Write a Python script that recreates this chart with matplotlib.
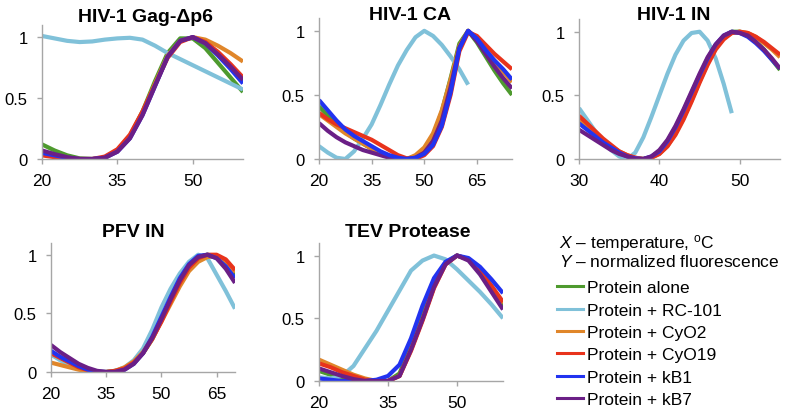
import matplotlib
matplotlib.use("Agg")
import matplotlib.pyplot as plt
from matplotlib.lines import Line2D

plt.rcParams['font.family'] = ['Liberation Sans', 'DejaVu Sans']
plt.rcParams['mathtext.fontset'] = 'custom'
plt.rcParams['mathtext.rm'] = 'Liberation Sans'
plt.rcParams['mathtext.it'] = 'Liberation Sans:italic'

W, H = 787, 414

# series labels and colours (legend order)
labels = ['Protein alone', 'Protein + RC-101', 'Protein + CyO2',
          'Protein + CyO19', 'Protein + kB1', 'Protein + kB7']
colors = ['#4e9a2e', '#80c1d9', '#e0862a', '#e8331c', '#2233f0', '#6b1f86']

# HIV-1 Gag-dp6
gag_x = [20, 22.5, 25, 27.5, 30, 32.5, 35, 37.5, 40, 42.5, 45, 47.5, 50, 52.5, 55, 57.5, 60]
gag_alone = [0.12, 0.07, 0.03, 0.005, 0.0, 0.01, 0.07, 0.19, 0.39, 0.64, 0.87, 0.99, 0.99, 0.91, 0.79, 0.67, 0.55]
gag_rc101 = [1.01, 0.99, 0.97, 0.96, 0.965, 0.98, 0.99, 0.995, 0.98, 0.93, 0.87, 0.82, 0.77, 0.72, 0.67, 0.62, 0.57]
gag_cyo2 = [0.06, 0.03, 0.01, 0.0, 0.0, 0.01, 0.07, 0.18, 0.38, 0.62, 0.85, 0.97, 1.0, 0.98, 0.93, 0.87, 0.80]
gag_cyo19 = [0.03, 0.015, 0.005, 0.0, 0.0, 0.02, 0.08, 0.20, 0.39, 0.61, 0.83, 0.96, 1.0, 0.96, 0.88, 0.78, 0.67]
gag_kb1 = [0.05, 0.03, 0.01, 0.0, 0.0, 0.01, 0.06, 0.17, 0.36, 0.60, 0.84, 0.97, 1.0, 0.95, 0.85, 0.74, 0.62]
gag_kb7 = [0.07, 0.04, 0.015, 0.0, 0.0, 0.01, 0.06, 0.17, 0.36, 0.60, 0.84, 0.97, 1.0, 0.95, 0.86, 0.76, 0.65]

# HIV-1 CA
ca_x = [20, 22.5, 25, 27.5, 30, 32.5, 35, 37.5, 40, 42.5, 45, 47.5, 50, 52.5, 55, 57.5, 60,
        62.5, 65, 67.5, 70, 72.5, 75]
ca_x_rc101 = [20, 22.5, 25, 27.5, 30, 32.5, 35, 37.5, 40, 42.5, 45, 47.5, 50, 52.5, 55, 57.5, 60, 62.5]
ca_alone = [0.41, 0.34, 0.27, 0.21, 0.16, 0.12, 0.08, 0.05, 0.02, 0.005, 0.0, 0.02, 0.07, 0.18, 0.37, 0.63, 0.90,
            1.0, 0.91, 0.80, 0.69, 0.59, 0.50]
ca_rc101 = [0.10, 0.05, 0.01, 0.0, 0.06, 0.16, 0.27, 0.42, 0.58, 0.73, 0.85, 0.95, 1.0, 0.96, 0.89, 0.80, 0.70, 0.58]
ca_cyo2 = [0.35, 0.30, 0.25, 0.20, 0.16, 0.12, 0.08, 0.05, 0.02, 0.005, 0.0, 0.03, 0.09, 0.20, 0.38, 0.62, 0.88,
           1.0, 0.94, 0.85, 0.76, 0.68, 0.60]
ca_cyo19 = [0.36, 0.31, 0.27, 0.24, 0.21, 0.18, 0.15, 0.11, 0.07, 0.03, 0.005, 0.0, 0.03, 0.10, 0.25, 0.50, 0.84,
            0.99, 0.96, 0.89, 0.82, 0.76, 0.70]
ca_kb1 = [0.46, 0.38, 0.30, 0.23, 0.18, 0.14, 0.10, 0.06, 0.03, 0.01, 0.0, 0.01, 0.04, 0.11, 0.26, 0.52, 0.86,
          1.0, 0.94, 0.85, 0.77, 0.70, 0.62]
ca_kb7 = [0.28, 0.22, 0.17, 0.13, 0.10, 0.07, 0.05, 0.03, 0.01, 0.0, 0.0, 0.01, 0.05, 0.14, 0.30, 0.56, 0.87,
          1.0, 0.92, 0.82, 0.72, 0.63, 0.55]

# HIV-1 IN
in_x = list(range(30, 56))
in_x_rc101 = list(range(30, 50))
in_alone = [0.30, 0.25, 0.19, 0.14, 0.09, 0.05, 0.02, 0.005, 0.0, 0.015, 0.05, 0.12, 0.22, 0.35, 0.49, 0.63,
            0.77, 0.88, 0.96, 1.0, 1.0, 0.97, 0.92, 0.86, 0.78, 0.70]
in_rc101 = [0.40, 0.31, 0.22, 0.14, 0.07, 0.02, 0.0, 0.05, 0.17, 0.33, 0.50, 0.67, 0.82, 0.93, 0.99, 1.0,
            0.93, 0.79, 0.59, 0.36]
in_cyo2 = [0.32, 0.26, 0.20, 0.15, 0.10, 0.06, 0.03, 0.01, 0.0, 0.01, 0.04, 0.10, 0.20, 0.32, 0.46, 0.61,
           0.75, 0.87, 0.95, 0.99, 1.0, 0.99, 0.96, 0.91, 0.86, 0.80]
in_cyo19 = [0.34, 0.28, 0.22, 0.16, 0.11, 0.06, 0.03, 0.01, 0.0, 0.01, 0.04, 0.10, 0.19, 0.31, 0.45, 0.60,
            0.74, 0.86, 0.94, 0.99, 1.0, 0.99, 0.96, 0.92, 0.87, 0.82]
in_kb1 = [0.28, 0.23, 0.18, 0.13, 0.09, 0.05, 0.02, 0.005, 0.0, 0.02, 0.06, 0.14, 0.25, 0.38, 0.52, 0.66,
          0.79, 0.90, 0.97, 1.0, 0.99, 0.96, 0.91, 0.85, 0.78, 0.71]
in_kb7 = [0.23, 0.19, 0.15, 0.11, 0.07, 0.04, 0.02, 0.0, 0.0, 0.02, 0.07, 0.15, 0.26, 0.39, 0.53, 0.67,
          0.80, 0.90, 0.97, 1.0, 0.99, 0.97, 0.92, 0.86, 0.79, 0.71]

# PFV IN
pfv_x = [20, 22.5, 25, 27.5, 30, 32.5, 35, 37.5, 40, 42.5, 45, 47.5, 50, 52.5, 55, 57.5, 60, 62.5, 65, 67.5, 70]
pfv_alone = [0.15, 0.11, 0.07, 0.04, 0.015, 0.0, 0.0, 0.01, 0.03, 0.08, 0.16, 0.28, 0.44, 0.61, 0.77, 0.90,
             0.98, 1.0, 0.98, 0.92, 0.82]
pfv_rc101 = [0.15, 0.10, 0.06, 0.03, 0.01, 0.0, 0.0, 0.01, 0.04, 0.10, 0.20, 0.36, 0.55, 0.71, 0.84, 0.94,
             1.0, 0.97, 0.83, 0.69, 0.54]
pfv_cyo2 = [0.08, 0.06, 0.04, 0.02, 0.005, 0.0, 0.0, 0.01, 0.04, 0.09, 0.17, 0.29, 0.43, 0.58, 0.73, 0.86,
            0.94, 0.98, 0.99, 0.94, 0.85]
pfv_cyo19 = [0.16, 0.12, 0.08, 0.04, 0.015, 0.0, 0.0, 0.01, 0.03, 0.08, 0.16, 0.28, 0.43, 0.60, 0.76, 0.89,
             0.97, 1.0, 1.0, 0.96, 0.87]
pfv_kb1 = [0.18, 0.13, 0.09, 0.05, 0.02, 0.005, 0.0, 0.0, 0.02, 0.07, 0.16, 0.30, 0.47, 0.64, 0.80, 0.92,
           0.99, 1.0, 0.97, 0.90, 0.80]
pfv_kb7 = [0.23, 0.17, 0.12, 0.07, 0.035, 0.01, 0.0, 0.0, 0.02, 0.07, 0.16, 0.29, 0.45, 0.62, 0.78, 0.91,
           0.98, 1.0, 0.97, 0.88, 0.76]

# TEV Protease
tev_x = [20, 22.5, 25, 27.5, 30, 32.5, 35, 37.5, 40, 42.5, 45, 47.5, 50, 52.5, 55, 57.5, 60]
tev_alone = [0.08, 0.05, 0.03, 0.01, 0.0, 0.0, 0.0, 0.06, 0.28, 0.53, 0.77, 0.94, 1.0, 0.97, 0.87, 0.74, 0.60]
tev_rc101 = [0.03, 0.02, 0.04, 0.12, 0.26, 0.40, 0.56, 0.72, 0.88, 0.96, 1.0, 0.97, 0.89, 0.80, 0.71, 0.61, 0.50]
tev_cyo2 = [0.17, 0.13, 0.09, 0.05, 0.02, 0.0, 0.0, 0.04, 0.25, 0.49, 0.75, 0.93, 1.0, 0.97, 0.88, 0.75, 0.62]
tev_cyo19 = [0.14, 0.11, 0.07, 0.04, 0.01, 0.0, 0.0, 0.04, 0.24, 0.48, 0.74, 0.93, 1.0, 0.97, 0.88, 0.76, 0.63]
tev_kb1 = [0.02, 0.01, 0.0, 0.0, 0.0, 0.01, 0.04, 0.13, 0.34, 0.60, 0.82, 0.95, 1.0, 0.98, 0.91, 0.81, 0.70]
tev_kb7 = [0.10, 0.07, 0.04, 0.015, 0.0, 0.0, 0.0, 0.04, 0.25, 0.49, 0.75, 0.93, 1.0, 0.96, 0.85, 0.71, 0.57]

panels = [
    # title, box px (left, bottom, right, top), xlim, xticks, title pos, series
    ('HIV-1 Gag-\u0394p6', (42, 160, 243, 26), (20, 60), [20, 35, 50], (146, 17),
     [(gag_x, gag_alone), (gag_x, gag_rc101), (gag_x, gag_cyo2), (gag_x, gag_cyo19),
      (gag_x, gag_kb1), (gag_x, gag_kb7)]),
    ('HIV-1 CA', (319, 160, 512, 19), (20, 75), [20, 35, 50, 65], (410, 15),
     [(ca_x, ca_alone), (ca_x_rc101, ca_rc101), (ca_x, ca_cyo2), (ca_x, ca_cyo19),
      (ca_x, ca_kb7), (ca_x, ca_kb1)]),
    ('HIV-1 IN', (579, 160, 780, 20), (30, 55), [30, 40, 50], (674, 15),
     [(in_x, in_alone), (in_x_rc101, in_rc101), (in_x, in_cyo2), (in_x, in_cyo19),
      (in_x, in_kb1), (in_x, in_kb7)]),
    ('PFV IN', (51, 373, 235, 244), (20, 70), [20, 35, 50, 65], (133, 233),
     [(pfv_x, pfv_alone), (pfv_x, pfv_rc101), (pfv_x, pfv_cyo2), (pfv_x, pfv_cyo19),
      (pfv_x, pfv_kb1), (pfv_x, pfv_kb7)]),
    ('TEV Protease', (319, 382, 503, 244), (20, 60), [20, 35, 50], (408, 233),
     [(tev_x, tev_alone), (tev_x, tev_rc101), (tev_x, tev_cyo2), (tev_x, tev_cyo19),
      (tev_x, tev_kb1), (tev_x, tev_kb7)]),
]
# colour order for CA panel has blue drawn last
panel_colors = [colors, colors, colors, colors, colors]
panel_colors[1] = [colors[0], colors[1], colors[2], colors[3], colors[5], colors[4]]

fig = plt.figure(figsize=(W / 100, H / 100), dpi=100)

for (title, box, xlim, xticks, tpos, series), cols in zip(panels, panel_colors):
    l, b, r, t = box
    ax = fig.add_axes([l / W, 1 - b / H, (r - l) / W, (b - t) / H])
    for (xs, ys), c in zip(series, cols):
        ax.plot(xs, ys, color=c, lw=3, solid_capstyle='butt')
    ax.set_xlim(*xlim)
    ax.set_ylim(0, 1.1)
    ax.set_xticks(xticks)
    ax.set_yticks([0, 0.5, 1])
    ax.set_yticklabels(['0', '0.5', '1'])
    for s in ['top', 'right']:
        ax.spines[s].set_visible(False)
    for s in ['left', 'bottom']:
        ax.spines[s].set_color('#a6a6a6')
        ax.spines[s].set_linewidth(1)
    ax.tick_params(axis='both', length=3.4, color='#a6a6a6', width=1)
    ax.tick_params(axis='x', pad=6.5, labelsize=12.5)
    ax.tick_params(axis='y', pad=7, labelsize=12)
    fig.text(tpos[0] / W, 1 - tpos[1] / H, title, ha='center', va='center',
             fontsize=14, fontweight='bold')

dash = '\u2013'
fig.text(559 / W, 1 - 243 / H, r'$X$ ' + dash + r' temperature, $^{\mathrm{o}}$C',
         fontsize=12.5, va='center', ha='left')
fig.text(559 / W, 1 - 262 / H, r'$Y$ ' + dash + ' normalized fluorescence',
         fontsize=12.5, va='center', ha='left')

handles = [Line2D([], [], color=c, lw=2.2) for c in colors]
fig.legend(handles, labels, loc='upper left', bbox_to_anchor=(557 / W, 1 - 281 / H),
           frameon=False, fontsize=12.5, handlelength=1.5, handletextpad=0.22,
           labelspacing=0.42, borderpad=0, borderaxespad=0)

fig.savefig('out.png', dpi=100)
